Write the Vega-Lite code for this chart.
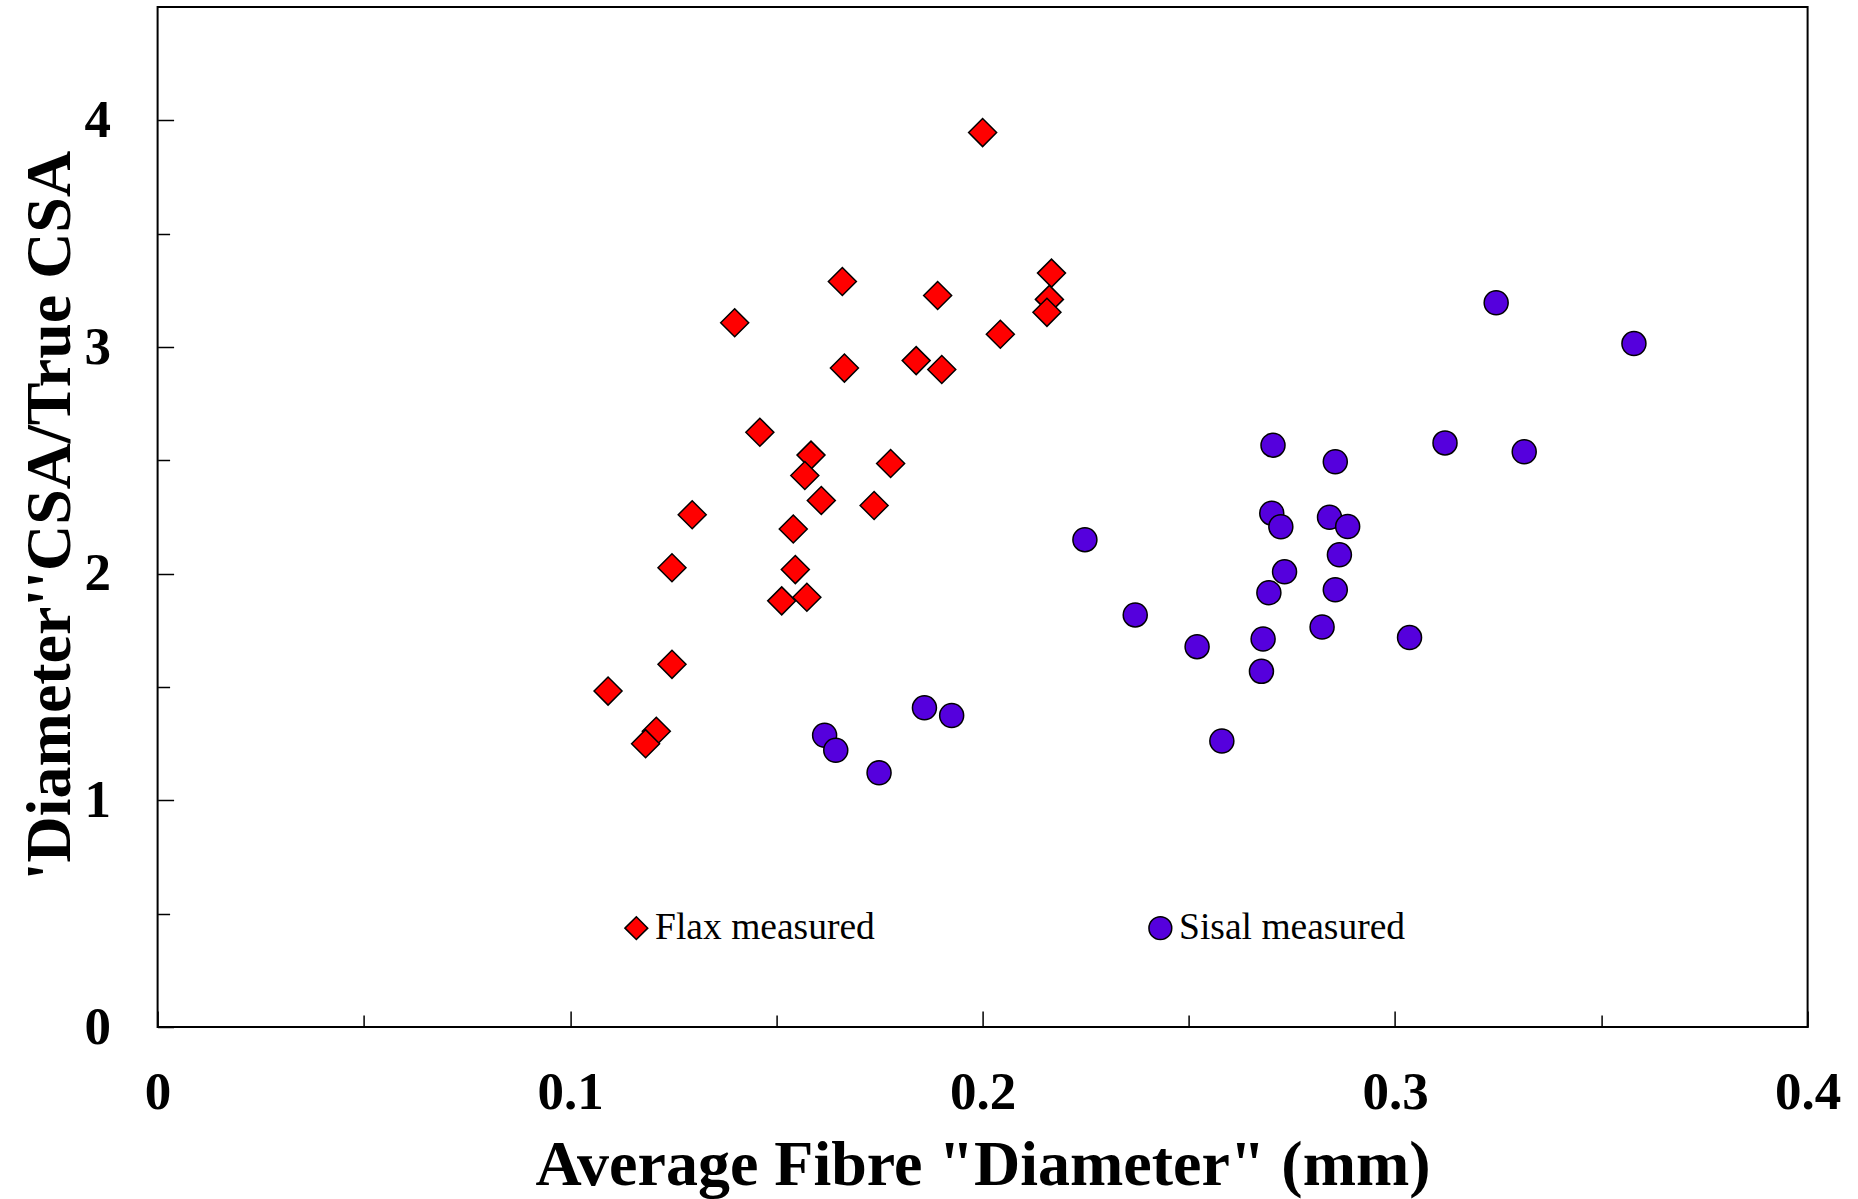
{
  "$schema": "https://vega.github.io/schema/vega-lite/v6.json",
  "autosize": "none",
  "width": 1650,
  "height": 1020,
  "padding": {"left": 157.6, "top": 7, "right": 50.4, "bottom": 172},
  "background": "white",
  "config": {
    "view": {"stroke": "black", "strokeWidth": 2},
    "axis": {"grid": false, "domain": false, "tickColor": "black", "tickWidth": 1.5, "labelFont": "Liberation Serif", "labelFontWeight": "bold", "labelFontSize": 53, "labelColor": "black", "titleFont": "Liberation Serif", "titleFontWeight": "bold", "titleFontSize": 64, "titleColor": "black"}
  },
  "data": {"values": [
    {"series": "Flax measured", "d": 0.2, "r": 3.946},
    {"series": "Flax measured", "d": 0.2167, "r": 3.326},
    {"series": "Flax measured", "d": 0.2162, "r": 3.21},
    {"series": "Flax measured", "d": 0.2156, "r": 3.153},
    {"series": "Flax measured", "d": 0.166, "r": 3.289},
    {"series": "Flax measured", "d": 0.1891, "r": 3.227},
    {"series": "Flax measured", "d": 0.1399, "r": 3.107},
    {"series": "Flax measured", "d": 0.2043, "r": 3.056},
    {"series": "Flax measured", "d": 0.1839, "r": 2.94},
    {"series": "Flax measured", "d": 0.1665, "r": 2.907},
    {"series": "Flax measured", "d": 0.1901, "r": 2.901},
    {"series": "Flax measured", "d": 0.146, "r": 2.624},
    {"series": "Flax measured", "d": 0.1584, "r": 2.523},
    {"series": "Flax measured", "d": 0.1777, "r": 2.486},
    {"series": "Flax measured", "d": 0.1569, "r": 2.433},
    {"series": "Flax measured", "d": 0.1609, "r": 2.323},
    {"series": "Flax measured", "d": 0.1737, "r": 2.301},
    {"series": "Flax measured", "d": 0.1296, "r": 2.26},
    {"series": "Flax measured", "d": 0.1541, "r": 2.197},
    {"series": "Flax measured", "d": 0.1247, "r": 2.026},
    {"series": "Flax measured", "d": 0.1546, "r": 2.018},
    {"series": "Flax measured", "d": 0.1513, "r": 1.88},
    {"series": "Flax measured", "d": 0.1574, "r": 1.896},
    {"series": "Flax measured", "d": 0.1247, "r": 1.6},
    {"series": "Flax measured", "d": 0.1092, "r": 1.482},
    {"series": "Flax measured", "d": 0.1209, "r": 1.305},
    {"series": "Flax measured", "d": 0.1183, "r": 1.25},
    {"series": "Sisal measured", "d": 0.1617, "r": 1.287},
    {"series": "Sisal measured", "d": 0.1644, "r": 1.221},
    {"series": "Sisal measured", "d": 0.1749, "r": 1.122},
    {"series": "Sisal measured", "d": 0.1859, "r": 1.408},
    {"series": "Sisal measured", "d": 0.1925, "r": 1.374},
    {"series": "Sisal measured", "d": 0.2248, "r": 2.15},
    {"series": "Sisal measured", "d": 0.3245, "r": 3.195},
    {"series": "Sisal measured", "d": 0.3579, "r": 3.015},
    {"series": "Sisal measured", "d": 0.2704, "r": 2.567},
    {"series": "Sisal measured", "d": 0.2855, "r": 2.494},
    {"series": "Sisal measured", "d": 0.3121, "r": 2.577},
    {"series": "Sisal measured", "d": 0.3313, "r": 2.538},
    {"series": "Sisal measured", "d": 0.2701, "r": 2.267},
    {"series": "Sisal measured", "d": 0.2723, "r": 2.207},
    {"series": "Sisal measured", "d": 0.2841, "r": 2.249},
    {"series": "Sisal measured", "d": 0.2885, "r": 2.208},
    {"series": "Sisal measured", "d": 0.2865, "r": 2.083},
    {"series": "Sisal measured", "d": 0.2732, "r": 2.008},
    {"series": "Sisal measured", "d": 0.2694, "r": 1.916},
    {"series": "Sisal measured", "d": 0.2855, "r": 1.929},
    {"series": "Sisal measured", "d": 0.237, "r": 1.818},
    {"series": "Sisal measured", "d": 0.252, "r": 1.678},
    {"series": "Sisal measured", "d": 0.268, "r": 1.712},
    {"series": "Sisal measured", "d": 0.2823, "r": 1.765},
    {"series": "Sisal measured", "d": 0.3035, "r": 1.718},
    {"series": "Sisal measured", "d": 0.2676, "r": 1.569},
    {"series": "Sisal measured", "d": 0.258, "r": 1.262}
  ]},
  "layer": [
    {
      "transform": [{"filter": "datum.series === 'Flax measured'"}],
      "mark": {"type": "point", "filled": true, "size": 784, "stroke": "black", "strokeWidth": 1.5, "opacity": 1, "strokeOpacity": 1},
      "encoding": {
        "x": {"field": "d", "type": "quantitative", "scale": {"domain": [0, 0.4], "nice": false, "zero": false},
              "axis": {"orient": "bottom", "values": [0.05, 0.15, 0.25, 0.35], "tickSize": -12, "labels": false, "title": null}},
        "y": {"field": "r", "type": "quantitative", "scale": {"domain": [0, 4.5], "nice": false, "zero": false},
              "axis": {"orient": "left", "values": [0.5, 1.5, 2.5, 3.5], "tickSize": -12, "labels": false, "title": null}},
        "color": {"field": "series", "type": "nominal", "scale": {"domain": ["Flax measured", "Sisal measured"], "range": ["#ff0000", "#5500dd"]},
                  "legend": {"orient": "none", "legendX": 460, "legendY": 902, "direction": "horizontal", "columns": 2, "columnPadding": 266, "title": null, "padding": 0, "symbolSize": 520, "symbolStrokeColor": "black", "symbolStrokeWidth": 1.5, "symbolOpacity": 1, "labelFont": "Liberation Serif", "labelFontSize": 37.5, "labelColor": "black", "labelOffset": 0, "labelLimit": 0, "labelBaseline": "middle"}},
        "shape": {"field": "series", "type": "nominal", "scale": {"domain": ["Flax measured", "Sisal measured"], "range": ["diamond", "circle"]}}
      }
    },
    {
      "transform": [{"filter": "datum.series === 'Sisal measured'"}],
      "mark": {"type": "point", "filled": true, "size": 576, "stroke": "black", "strokeWidth": 1.5, "opacity": 1, "strokeOpacity": 1},
      "encoding": {
        "x": {"field": "d", "type": "quantitative",
              "axis": {"orient": "bottom", "values": [0, 0.1, 0.2, 0.3, 0.4], "tickSize": -16, "labelPadding": 55, "labelExpr": "format(datum.value, '.1~f')", "labelFlush": false, "labelOverlap": false, "title": "Average Fibre \"Diameter\" (mm)", "titleY": 157.5, "titleBaseline": "alphabetic"}},
        "y": {"field": "r", "type": "quantitative",
              "axis": {"orient": "left", "values": [0, 1, 2, 3, 4], "tickSize": -16, "labelPadding": 63, "labelFlush": false, "labelOverlap": false, "labelBaseline": "middle", "title": "'Diameter''CSA/True CSA", "titleX": -88, "titleY": 508, "titleAngle": -90, "titleBaseline": "alphabetic", "titleAlign": "center"}},
        "color": {"field": "series", "type": "nominal"},
        "shape": {"field": "series", "type": "nominal"}
      }
    }
  ],
  "resolve": {"axis": {"x": "independent", "y": "independent"}}
}
